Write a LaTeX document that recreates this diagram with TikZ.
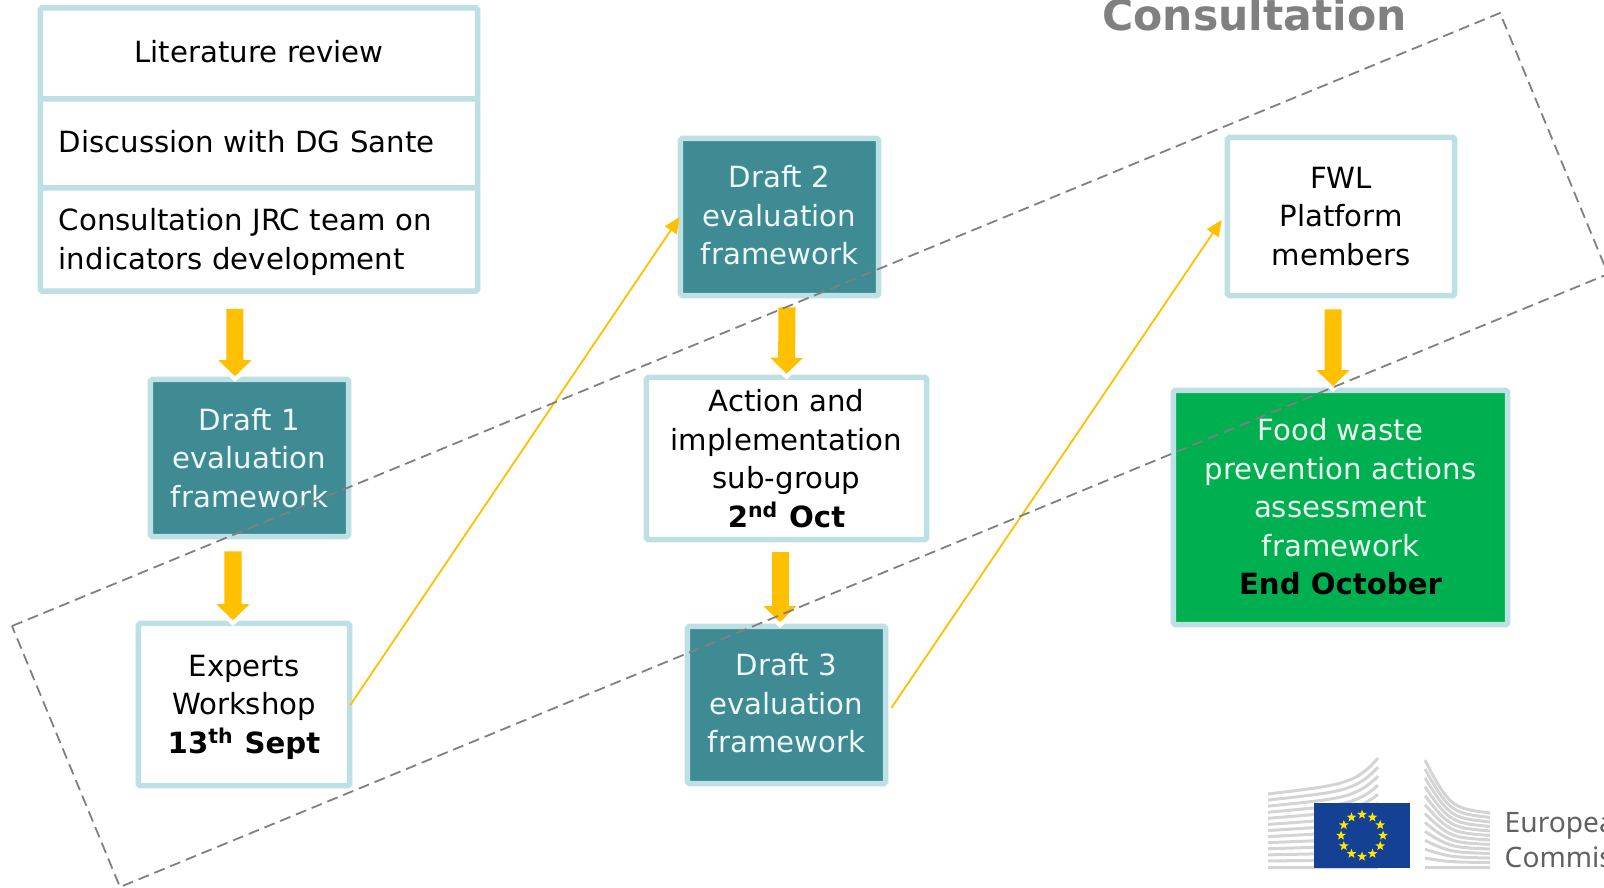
\documentclass[tikz,border=0pt]{standalone}
\usepackage{fontspec}
\setmainfont{DejaVu Sans}
\newfontfamily\logofont{Noto Sans}
\usetikzlibrary{arrows.meta,shapes.geometric}
\definecolor{PaleTeal}{HTML}{BCE0E3}
\definecolor{DarkTeal}{HTML}{3E8B94}
\definecolor{FoodGreen}{HTML}{00B050}
\definecolor{ArrowGold}{HTML}{FFC000}
\definecolor{EuBlue}{HTML}{154194}
\definecolor{EuGold}{HTML}{FFE600}
\tikzset{
  bodyfont/.style={font=\fontsize{8.3}{10.95}\selectfont},
  box/.style={draw=PaleTeal, line width=0.055cm, rounded corners=0.5pt, bodyfont, align=center, inner sep=0pt},
  whitebox/.style={box, fill=white, text=black},
  tealbox/.style={box, fill=DarkTeal, text=white!92!DarkTeal},
  greenbox/.style={box, fill=FoodGreen, text=white!92!FoodGreen},
  listbox/.style={whitebox, minimum width=4.37cm, text width=4.00cm, align=left},
  blockarrow/.style={line width=0.17cm, draw=ArrowGold, -{Triangle[width=0.32cm,length=0.16cm]},
    preaction={draw=white, line width=0.21cm, shorten >=-0.06cm, -{Triangle[width=0.38cm,length=0.19cm]}}},
  thinarrow/.style={draw=ArrowGold, line width=0.018cm, -{Triangle[width=0.14cm,length=0.16cm]}},
  slat/.style={draw=black!17, line width=0.03cm},
  eustar/.style={star, star points=5, star point ratio=2.4, fill=EuGold, inner sep=0pt, minimum size=0.10cm},
}
\begin{document}
\begin{tikzpicture}[x=0.01cm, y=-0.01cm]
\useasboundingbox (0, 0) rectangle (1604, 887);
\clip (0, 0) rectangle (1604, 887);

\node[font=\fontsize{12.1}{15}\selectfont\bfseries, text=black!50, anchor=base] (title) at (1254.5, 30) {Consultation};
\node[font=\fontsize{8.2}{10}\selectfont, text=black!60, anchor=base east] (page) at (8, 863) {5};

\node[listbox, align=center, minimum height=0.91cm] (lit) at (259, 53.5) {Literature review\rule[-0.04cm]{0pt}{0pt}};
\node[listbox, minimum height=0.89cm] (dg) at (259, 143.5) {Discussion with DG Sante\rule[-0.04cm]{0pt}{0pt}};
\node[listbox, minimum height=1.03cm] (jrc) at (259, 239.5) {\rule{0pt}{0.27cm}Consultation JRC team on\\indicators development};

\node[tealbox, minimum width=1.98cm, minimum height=1.57cm] (draftone) at (249.5, 458) {Draft 1\\evaluation\\framework};
\node[whitebox, minimum width=2.11cm, minimum height=1.62cm] (experts) at (244, 704.5) {\rule{0pt}{0.27cm}Experts\\Workshop\\{\bf 13\textsuperscript{th} Sept}};
\node[tealbox, minimum width=1.98cm, minimum height=1.57cm] (drafttwo) at (779.5, 217) {Draft 2\\evaluation\\framework\rule[-0.04cm]{0pt}{0pt}};
\node[whitebox, minimum width=2.80cm, minimum height=1.62cm] (action) at (786.5, 458.5) {Action and\\implementation\\sub-group\\{\bf 2\textsuperscript{nd} Oct}};
\node[tealbox, minimum width=1.98cm, minimum height=1.57cm] (draftthree) at (786.5, 705) {Draft 3\\evaluation\\framework\rule[-0.04cm]{0pt}{0pt}};
\node[whitebox, minimum width=2.27cm, minimum height=1.58cm] (fwl) at (1341, 216.5) {FWL\\Platform\\members};
\node[greenbox, minimum width=3.34cm, minimum height=2.34cm] (food) at (1340.5, 507.5) {Food waste\\prevention actions\\assessment\\framework\\{\color{black}\bf End October}\rule[-0.02cm]{0pt}{0pt}};

\draw[blockarrow] ([xshift=-0.24cm, yshift=-0.15cm]jrc.south) -- ([xshift=-0.145cm, yshift=0.005cm]draftone.north);
\draw[blockarrow] ([xshift=-0.165cm, yshift=-0.12cm]draftone.south) -- ([xshift=-0.11cm, yshift=0.005cm]experts.north);
\draw[blockarrow] ([xshift=0.075cm, yshift=-0.09cm]drafttwo.south) -- ([yshift=0.01cm]action.north);
\draw[blockarrow] ([xshift=-0.065cm, yshift=-0.10cm]action.south) -- ([xshift=-0.065cm, yshift=0.015cm]draftthree.north);
\draw[blockarrow] ([xshift=-0.08cm, yshift=-0.11cm]fwl.south) -- ([xshift=-0.075cm, yshift=0.015cm]food.north);

\draw[thinarrow] ([xshift=-0.02cm, yshift=-0.005cm]experts.east) -- ([xshift=0.02cm]drafttwo.west);
\draw[thinarrow] ([xshift=0.03cm, yshift=-0.03cm]draftthree.east) -- ([xshift=-0.03cm, yshift=-0.035cm]fwl.west);

\draw[black!50, line width=0.018cm, dash pattern=on 0.11cm off 0.06cm] (12, 626) -- (1500, 13) -- (1608, 274) -- (120, 887) -- cycle;

\foreach \s in {0,...,12} {
  \pgfmathsetmacro{\t}{\s/12}
  \draw[slat] (1268, {794+73*\t}) .. controls (1340, {785+82*\t}) and (1355, {785+82*\t}) .. (1378, {758+109*\t});
  \draw[slat] (1425, {760+107*\t}) .. controls (1450, {810+57*\t}) and (1455, {808+59*\t}) .. (1490, {813+54*\t});
}
\node[fill=EuBlue, minimum width=0.96cm, minimum height=0.65cm, inner sep=0pt] (flag) at (1362, 835.5) {};
\foreach \a in {0,30,...,330} {
  \node[eustar] (star\a) at ([shift={(flag.center)}] \a:21) {};
}
\node[font=\logofont\fontsize{8}{9.7}\selectfont, text=black!62, anchor=base west, align=left, inner sep=0pt] (eclabel) at (1504, 867) {European\\Commission};
\end{tikzpicture}
\end{document}
